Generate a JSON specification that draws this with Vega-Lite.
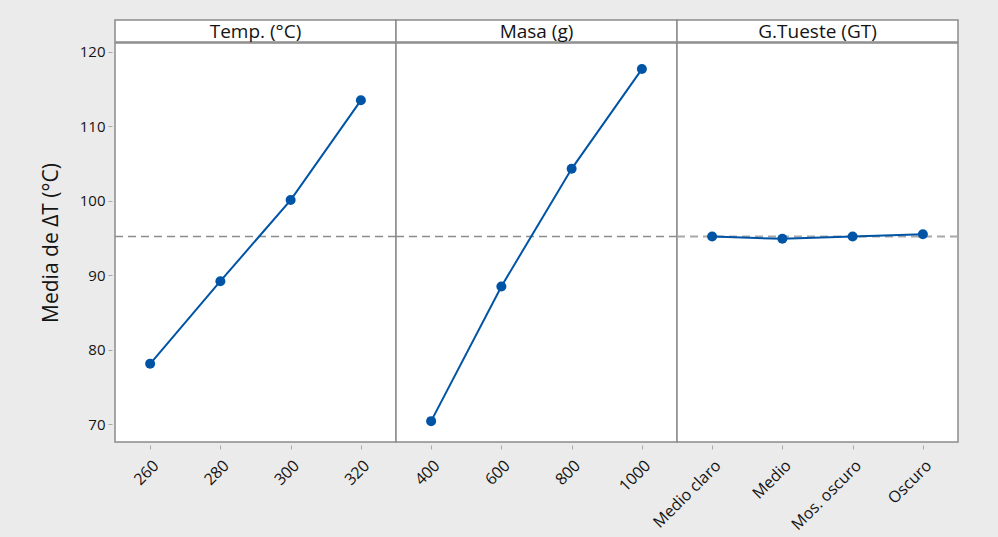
{
  "$schema": "https://vega.github.io/schema/vega-lite/v6.json",
  "background": "#ebebeb",
  "autosize": {"type": "pad"},
  "padding": {"left": 39, "top": 19, "right": 40, "bottom": 10},
  "datasets": {
    "efectos": [
      {"factor": "Temp. (°C)", "nivel": 260, "media": 78.1},
      {"factor": "Temp. (°C)", "nivel": 280, "media": 89.2},
      {"factor": "Temp. (°C)", "nivel": 300, "media": 100.1},
      {"factor": "Temp. (°C)", "nivel": 320, "media": 113.5},
      {"factor": "Masa (g)", "nivel": 400, "media": 70.4},
      {"factor": "Masa (g)", "nivel": 600, "media": 88.5},
      {"factor": "Masa (g)", "nivel": 800, "media": 104.3},
      {"factor": "Masa (g)", "nivel": 1000, "media": 117.7},
      {"factor": "G.Tueste (GT)", "nivel": "Medio claro", "media": 95.2},
      {"factor": "G.Tueste (GT)", "nivel": "Medio", "media": 94.9},
      {"factor": "G.Tueste (GT)", "nivel": "Mos. oscuro", "media": 95.2},
      {"factor": "G.Tueste (GT)", "nivel": "Oscuro", "media": 95.5}
    ],
    "media_global": [{"valor": 95.2}]
  },
  "spacing": -5,
  "vconcat": [
    {
      "spacing": 0,
      "bounds": "flush",
      "hconcat": [
        {
          "width": 281, "height": 22,
          "view": {"stroke": "#8c8c8c", "strokeWidth": 1.5, "fill": "white"},
          "data": {"values": [{"titulo": "Temp. (°C)"}]},
          "mark": {"type": "text", "fontSize": 19, "font": "Open Sans", "color": "#141414", "baseline": "middle", "dy": 1},
          "encoding": {"text": {"field": "titulo"}}
        },
        {
          "width": 281, "height": 22,
          "view": {"stroke": "#8c8c8c", "strokeWidth": 1.5, "fill": "white"},
          "data": {"values": [{"titulo": "Masa (g)"}]},
          "mark": {"type": "text", "fontSize": 19, "font": "Open Sans", "color": "#141414", "baseline": "middle", "dy": 1},
          "encoding": {"text": {"field": "titulo"}}
        },
        {
          "width": 281, "height": 22,
          "view": {"stroke": "#8c8c8c", "strokeWidth": 1.5, "fill": "white"},
          "data": {"values": [{"titulo": "G.Tueste (GT)"}]},
          "mark": {"type": "text", "fontSize": 19, "font": "Open Sans", "color": "#141414", "baseline": "middle", "dy": 1},
          "encoding": {"text": {"field": "titulo"}}
        }
      ]
    },
    {
      "spacing": 0,
      "bounds": "flush",
      "hconcat": [
        {
          "width": 281, "height": 399,
          "data": {"name": "efectos"},
          "transform": [{"filter": "datum.factor === 'Temp. (°C)'"}],
          "encoding": {
            "y": {
              "type": "quantitative",
              "scale": {"domain": [67.6, 121.2], "nice": false, "zero": false},
              "axis": {"title": "Media de ΔT (°C)", "values": [70, 80, 90, 100, 110, 120]}
            }
          },
          "layer": [
            {
              "data": {"name": "media_global"},
              "mark": {"type": "rule", "color": "#8c8c8c", "strokeWidth": 1.5, "strokeDash": [8, 5]},
              "encoding": {"y": {"field": "valor", "type": "quantitative"}}
            },
            {
              "mark": {"type": "line", "color": "#0054a6", "strokeWidth": 2},
              "encoding": {
                "x": {"field": "nivel", "type": "ordinal", "title": null},
                "y": {"field": "media", "type": "quantitative"}
              }
            },
            {
              "mark": {"type": "circle", "color": "#0054a6", "opacity": 1, "size": 100},
              "encoding": {
                "x": {"field": "nivel", "type": "ordinal", "title": null},
                "y": {"field": "media", "type": "quantitative"}
              }
            }
          ]
        },
        {
          "width": 281, "height": 399,
          "data": {"name": "efectos"},
          "transform": [{"filter": "datum.factor === 'Masa (g)'"}],
          "encoding": {
            "y": {
              "type": "quantitative",
              "scale": {"domain": [67.6, 121.2], "nice": false, "zero": false},
              "axis": null
            }
          },
          "layer": [
            {
              "data": {"name": "media_global"},
              "mark": {"type": "rule", "color": "#8c8c8c", "strokeWidth": 1.5, "strokeDash": [8, 5]},
              "encoding": {"y": {"field": "valor", "type": "quantitative"}}
            },
            {
              "mark": {"type": "line", "color": "#0054a6", "strokeWidth": 2},
              "encoding": {
                "x": {"field": "nivel", "type": "ordinal", "title": null},
                "y": {"field": "media", "type": "quantitative"}
              }
            },
            {
              "mark": {"type": "circle", "color": "#0054a6", "opacity": 1, "size": 100},
              "encoding": {
                "x": {"field": "nivel", "type": "ordinal", "title": null},
                "y": {"field": "media", "type": "quantitative"}
              }
            }
          ]
        },
        {
          "width": 281, "height": 399,
          "data": {"name": "efectos"},
          "transform": [{"filter": "datum.factor === 'G.Tueste (GT)'"}],
          "encoding": {
            "y": {
              "type": "quantitative",
              "scale": {"domain": [67.6, 121.2], "nice": false, "zero": false},
              "axis": null
            }
          },
          "layer": [
            {
              "data": {"name": "media_global"},
              "mark": {"type": "rule", "color": "#a8a8a8", "strokeWidth": 2, "strokeDash": [8, 5]},
              "encoding": {"y": {"field": "valor", "type": "quantitative"}}
            },
            {
              "mark": {"type": "line", "color": "#0054a6", "strokeWidth": 2},
              "encoding": {
                "x": {"field": "nivel", "type": "ordinal", "title": null, "sort": ["Medio claro", "Medio", "Mos. oscuro", "Oscuro"]},
                "y": {"field": "media", "type": "quantitative"}
              }
            },
            {
              "mark": {"type": "circle", "color": "#0054a6", "opacity": 1, "size": 100},
              "encoding": {
                "x": {"field": "nivel", "type": "ordinal", "title": null, "sort": ["Medio claro", "Medio", "Mos. oscuro", "Oscuro"]},
                "y": {"field": "media", "type": "quantitative"}
              }
            }
          ]
        }
      ]
    }
  ],
  "config": {
    "font": "Open Sans",
    "view": {"stroke": "#8c8c8c", "strokeWidth": 1.5, "fill": "white"},
    "scale": {"pointPadding": 0.5},
    "axis": {
      "grid": false,
      "domain": false,
      "offset": 3,
      "tickSize": 4,
      "tickColor": "#a8a8a8",
      "tickWidth": 1,
      "labelFont": "Open Sans",
      "labelFontSize": 15,
      "labelColor": "#141414",
      "labelPadding": 3,
      "titleFont": "Open Sans",
      "titleFontSize": 21,
      "titleFontWeight": "normal",
      "titleColor": "#141414",
      "titlePadding": 18
    },
    "axisX": {"labelAngle": -45, "labelPadding": 8, "labelFontSize": 16}
  }
}
